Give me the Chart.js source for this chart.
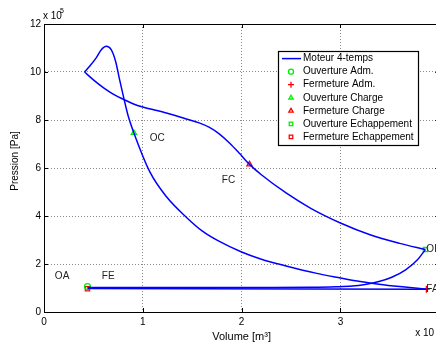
<!DOCTYPE html>
<html>
<head>
<meta charset="utf-8">
<script src="https://cdn.jsdelivr.net/npm/chart.js@4/dist/chart.umd.min.js"></script>
<style>
  html, body { margin: 0; padding: 0; background: #fff; overflow: hidden; }
  #wrap { position: relative; width: 446px; height: 344px; }
</style>
</head>
<body>
<div id="wrap"><canvas id="pv" width="446" height="344"></canvas></div>
<script>
// volume in 1e-4 m3, pressure in 1e5 Pa
const admVol = [0.44, 3.87];
const admPres = [0.98, 0.95];

const compVol = [3.87, 3.6, 3.39, 3.2, 3.0, 2.75, 2.45, 2.2, 2.0, 1.77, 1.6, 1.44, 1.24, 1.07, 0.91, 0.85, 0.81, 0.765, 0.725, 0.68, 0.63, 0.58, 0.53, 0.46, 0.41];
const compPres = [0.95, 1.06, 1.16, 1.27, 1.42, 1.62, 1.92, 2.2, 2.5, 2.95, 3.38, 3.95, 4.8, 5.85, 7.46, 8.2, 8.87, 9.68, 10.44, 10.93, 11.07, 10.93, 10.6, 10.23, 10.0];

const detVol = [0.41, 0.5, 0.6, 0.7, 0.81, 0.9, 1.0, 1.24, 1.44, 1.57, 1.67, 1.77, 1.88, 1.98, 2.08, 2.2, 2.45, 2.7, 3.0, 3.3, 3.6, 3.86];
const detPres = [10.0, 9.67, 9.35, 9.08, 8.85, 8.68, 8.54, 8.29, 8.04, 7.88, 7.7, 7.43, 7.03, 6.6, 6.15, 5.72, 4.96, 4.32, 3.71, 3.22, 2.86, 2.6];

const echVol = [3.86, 3.78, 3.66, 3.52, 3.39, 3.25, 3.12, 2.95, 2.7, 2.3, 0.44];
const echPres = [2.6, 2.18, 1.76, 1.45, 1.27, 1.15, 1.08, 1.05, 1.03, 1.02, 1.02];

const eventNames = ['Ouverture Adm.', 'Fermeture Adm.', 'Ouverture Charge', 'Fermeture Charge', 'Ouverture Echappement', 'Fermeture Echappement'];
const eventVol = [0.44, 3.87, 0.91, 2.08, 3.86, 0.44];
const eventPres = [1.06, 0.95, 7.46, 6.15, 2.6, 0.97];
const eventStyle = ['circle', 'cross', 'triangle', 'triangle', 'rect', 'rect'];
const eventColor = ['#00ee00', '#ff0000', '#00ee00', '#ff0000', '#00ee00', '#ff0000'];

const labelText = ['OA', 'FE', 'OC', 'FC', 'OE', 'FA'];
const labelVol = [0.11, 0.585, 1.07, 1.8, 3.87, 3.87];
const labelPres = [1.51, 1.51, 7.26, 5.47, 2.6, 0.95];

const xTicks = [0, 1, 2, 3, 4];
const yTicks = [0, 2, 4, 6, 8, 10, 12];

const FONT = '"Liberation Sans", Arial, sans-serif';
Chart.defaults.font.family = FONT;
Chart.defaults.font.size = 10;
Chart.defaults.color = '#000';

const pts = (xs, ys) => xs.map((v, i) => ({ x: v, y: ys[i] }));

const curve = (label, xs, ys) => ({
    label: label,
    data: pts(xs, ys),
    borderColor: '#0000ff',
    borderWidth: 1.5,
    pointRadius: 0,
    cubicInterpolationMode: 'monotone',
    fill: false
});

const datasets = [
    curve('Moteur 4-temps', admVol, admPres),
    curve('comp', compVol, compPres),
    curve('det', detVol, detPres),
    curve('ech', echVol, echPres)
];

eventNames.forEach((name, i) => {
    datasets.push({
        label: name,
        data: [{ x: eventVol[i], y: eventPres[i] }],
        showLine: false,
        pointStyle: eventStyle[i],
        pointRadius: eventStyle[i] === 'cross' ? 3.5 : 3,
        pointBorderWidth: 1.3,
        pointBorderColor: eventColor[i],
        pointBackgroundColor: 'rgba(0,0,0,0)',
        borderColor: eventColor[i]
    });
});

function marker(ctx, style, color, x, y, r) {
    ctx.save();
    ctx.strokeStyle = color;
    ctx.fillStyle = 'rgba(0,0,0,0)';
    ctx.lineWidth = 1.3;
    Chart.helpers.drawPoint(ctx, { pointStyle: style, radius: r, rotation: 0, borderWidth: 1.3 }, x, y);
    ctx.restore();
}

// frame, inward ticks, text labels, legend box
const overlay = {
    id: 'overlay',
    afterDatasetsDraw(chart) {
        const { ctx, chartArea: a, scales: { x, y } } = chart;
        ctx.save();

        ctx.strokeStyle = '#000';
        ctx.lineWidth = 1;
        ctx.beginPath();
        ctx.moveTo(a.left, a.top + 0.5);
        ctx.lineTo(a.right, a.top + 0.5);
        ctx.moveTo(a.right - 0.5, a.top);
        ctx.lineTo(a.right - 0.5, a.bottom);
        xTicks.forEach(v => {
            const px = Math.round(x.getPixelForValue(v)) + 0.5;
            ctx.moveTo(px, a.bottom); ctx.lineTo(px, a.bottom - 4);
            ctx.moveTo(px, a.top); ctx.lineTo(px, a.top + 4);
        });
        yTicks.forEach(v => {
            const py = Math.round(y.getPixelForValue(v)) + 0.5;
            ctx.moveTo(a.left, py); ctx.lineTo(a.left + 4, py);
            ctx.moveTo(a.right, py); ctx.lineTo(a.right - 4, py);
        });
        ctx.stroke();

        ctx.font = '10px ' + FONT;
        ctx.fillStyle = '#222';
        ctx.textAlign = 'left';
        ctx.textBaseline = 'middle';
        labelText.forEach((t, i) => {
            ctx.fillText(t, x.getPixelForValue(labelVol[i]), y.getPixelForValue(labelPres[i]));
        });

        // legend
        const lx = a.left + 234, ly = a.top + 27, lw = 140, lh = 94;
        ctx.fillStyle = '#fff';
        ctx.fillRect(lx, ly, lw, lh);
        ctx.strokeStyle = '#000';
        ctx.lineWidth = 1.2;
        ctx.strokeRect(lx + 0.5, ly + 0.5, lw, lh);
        const rowY = i => ly + 7.6 + i * 13.05;
        ctx.strokeStyle = '#0000ff';
        ctx.lineWidth = 1.5;
        ctx.beginPath();
        ctx.moveTo(lx + 4, rowY(0));
        ctx.lineTo(lx + 23, rowY(0));
        ctx.stroke();
        ctx.fillStyle = '#000';
        ctx.font = '10px ' + FONT;
        ctx.fillText('Moteur 4-temps', lx + 25, rowY(0));
        eventNames.forEach((name, i) => {
            const r = eventStyle[i] === 'cross' ? 3 : 2.5;
            marker(ctx, eventStyle[i], eventColor[i], lx + 13, rowY(i + 1), r);
            ctx.fillStyle = '#000';
            ctx.fillText(name, lx + 25, rowY(i + 1));
        });

        // axis titles and multipliers
        ctx.fillStyle = '#000';
        ctx.textAlign = 'center';
        ctx.font = '11px ' + FONT;
        ctx.fillText('Volume [m³]', (a.left + a.right) / 2, a.bottom + 25);
        ctx.font = '10px ' + FONT;
        ctx.save();
        ctx.translate(15, 161);
        ctx.rotate(-Math.PI / 2);
        ctx.fillText('Pression [Pa]', 0, 0);
        ctx.restore();

        ctx.textAlign = 'left';
        ctx.textBaseline = 'alphabetic';
        ctx.fillText('x 10', a.left - 1, a.top - 5);
        ctx.font = '7px ' + FONT;
        ctx.fillText('5', a.left + 16, a.top - 11);
        ctx.font = '10px ' + FONT;
        ctx.fillText('x 10', a.right - 24, a.bottom + 24);
        ctx.font = '7px ' + FONT;
        ctx.fillText('-4', a.right - 3, a.bottom + 18);
        ctx.restore();
    }
};

new Chart(document.getElementById('pv'), {
    type: 'line',
    data: { datasets: datasets },
    options: {
        responsive: false,
        animation: false,
        layout: { padding: { top: 24, right: 2, left: 0, bottom: 0 } },
        plugins: { legend: { display: false }, tooltip: { enabled: false } },
        scales: {
            x: {
                type: 'linear',
                min: 0,
                max: 4,
                afterBuildTicks: s => { s.ticks = xTicks.map(v => ({ value: v })); },
                afterFit: s => { s.height = 32; },
                ticks: { padding: 4, maxRotation: 0 },
                grid: { color: '#8a8a8a', lineWidth: 1, drawTicks: false },
                border: { color: '#000', width: 1, dash: [1, 2] }
            },
            y: {
                type: 'linear',
                min: 0,
                max: 12,
                afterBuildTicks: s => { s.ticks = yTicks.map(v => ({ value: v })); },
                afterFit: s => { s.width = 44; },
                ticks: { padding: 3 },
                grid: { color: '#8a8a8a', lineWidth: 1, drawTicks: false },
                border: { color: '#000', width: 1, dash: [1, 2] }
            }
        }
    },
    plugins: [overlay]
});
</script>
</body>
</html>
